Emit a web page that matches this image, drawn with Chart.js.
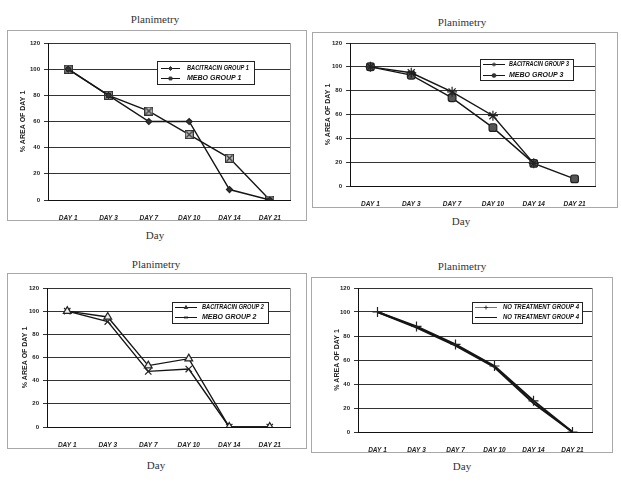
<!DOCTYPE html>
<html>
<head>
<meta charset="utf-8">
<script src="https://cdn.jsdelivr.net/npm/chart.js@4.4.0/dist/chart.umd.min.js"></script>
<style>
  body { margin: 0; width: 621px; height: 486px; background: #fff; position: relative; overflow: hidden;
         font-family: "Liberation Serif", "Times New Roman", serif; }
  canvas { position: absolute; }
  .lbl { position: absolute; transform: translate(-50%, -50%); font-size: 11px; color: #333; white-space: nowrap; }
</style>
</head>
<body>
<div class="lbl" style="left:155px;top:19px">Planimetry</div>
<div class="lbl" style="left:155px;top:235px">Day</div>
<div class="lbl" style="left:462px;top:22px">Planimetry</div>
<div class="lbl" style="left:461px;top:221px">Day</div>
<div class="lbl" style="left:156px;top:264px">Planimetry</div>
<div class="lbl" style="left:156px;top:465px">Day</div>
<div class="lbl" style="left:462px;top:266px">Planimetry</div>
<div class="lbl" style="left:462px;top:466px">Day</div>

<canvas id="c1" width="300" height="191" style="left:7px;top:30px"></canvas>
<canvas id="c2" width="306" height="176" style="left:312px;top:32px"></canvas>
<canvas id="c3" width="300" height="176" style="left:7px;top:273px"></canvas>
<canvas id="c4" width="302" height="176" style="left:311px;top:277px"></canvas>

<script>
const days = ["DAY 1", "DAY 3", "DAY 7", "DAY 10", "DAY 14", "DAY 21"];
const yTicks = [0, 20, 40, 60, 80, 100, 120];

// group 1
const bacitracin1 = [100, 80, 60, 60, 8, 0];
const mebo1 = [100, 80, 68, 50, 32, 0];
// group 3
const bacitracin3 = [100, 95, 79, 59, 19, null];
const mebo3 = [100, 93, 74, 49, 19, 6];
// group 2
const bacitracin2 = [100, 95, 53, 59, 0, 0];
const mebo2 = [100, 91, 48, 50, 0, 0];
// group 4
const noTreatA = [100, 88, 73, 55, 26, 0];
const noTreatB = [100, 87, 72, 54, 24, 0];

// square with an X through it
function crossedSquare(size) {
  const c = document.createElement("canvas");
  c.width = size; c.height = size;
  const g = c.getContext("2d");
  g.fillStyle = "#c4c4c4";
  g.fillRect(0.5, 0.5, size - 1, size - 1);
  g.strokeStyle = "#333";
  g.lineWidth = 1.2;
  g.strokeRect(0.5, 0.5, size - 1, size - 1);
  g.beginPath();
  g.moveTo(1.5, 1.5); g.lineTo(size - 1.5, size - 1.5);
  g.moveTo(size - 1.5, 1.5); g.lineTo(1.5, size - 1.5);
  g.stroke();
  return c;
}

const framePlugin = {
  id: "frame",
  beforeDraw(chart) {
    const { ctx, width, height } = chart;
    ctx.save();
    ctx.fillStyle = "#fff";
    ctx.fillRect(0, 0, width, height);
    ctx.strokeStyle = "#a8a8a8";
    ctx.lineWidth = 1;
    ctx.strokeRect(0.5, 0.5, width - 1, height - 1);
    ctx.restore();
  },
  beforeDatasetsDraw(chart) {
    const { ctx, chartArea } = chart;
    ctx.save();
    ctx.strokeStyle = "#999";
    ctx.lineWidth = 1;
    ctx.beginPath();
    ctx.moveTo(Math.round(chartArea.right) + 0.5, chartArea.top);
    ctx.lineTo(Math.round(chartArea.right) + 0.5, chartArea.bottom);
    ctx.stroke();
    ctx.restore();
  }
};

const boxLegendPlugin = {
  id: "boxLegend",
  afterDraw(chart, args, opts) {
    const b = opts.box;
    if (!b) return;
    const { ctx } = chart;
    ctx.save();
    ctx.fillStyle = "#fff";
    ctx.fillRect(b.x, b.y, b.w, b.h);
    ctx.strokeStyle = "#222";
    ctx.lineWidth = 1;
    ctx.strokeRect(b.x + 0.5, b.y + 0.5, b.w, b.h);
    ctx.font = "italic bold 7px Arial";
    ctx.textBaseline = "middle";
    chart.data.datasets.forEach((ds, i) => {
      const y = Math.round(b.y + b.row0 + i * b.rowGap) + 0.5;
      ctx.strokeStyle = ds.legendLine || ds.borderColor;
      ctx.lineWidth = 1;
      ctx.beginPath();
      ctx.moveTo(b.x + b.lx0, y);
      ctx.lineTo(b.x + b.lx1, y);
      ctx.stroke();
      if (ds.pointRadius > 0) {
        const small = typeof ds.pointStyle === "string" ? ds.pointStyle : "rect";
        ctx.fillStyle = "#333";
        ctx.strokeStyle = "#333";
        ctx.lineWidth = 1;
        Chart.helpers.drawPoint(ctx, {
          pointStyle: small, radius: 2, borderWidth: 1, rotation: 0
        }, b.x + (b.lx0 + b.lx1) / 2, y);
      }
      ctx.fillStyle = "#111";
      ctx.fillText(ds.label, b.x + b.tx, y, b.tw);
    });
    ctx.restore();
  }
};

function series(label, data, style, radius, fill, width) {
  return {
    label, data,
    borderColor: "#151515",
    borderWidth: width || 1.4,
    pointStyle: style,
    pointRadius: radius,
    pointBackgroundColor: fill,
    pointBorderColor: "#222",
    pointBorderWidth: 1.2,
    tension: 0,
    spanGaps: false
  };
}

function makeChart(id, datasets, lay) {
  return new Chart(document.getElementById(id), {
    type: "line",
    data: { labels: days, datasets },
    options: {
      responsive: false,
      animation: false,
      devicePixelRatio: 1,
      layout: { padding: { left: lay.pl, top: lay.pt, right: lay.pr, bottom: 0 } },
      plugins: {
        legend: { display: false },
        tooltip: { enabled: false },
        boxLegend: { box: lay.legend }
      },
      scales: {
        x: {
          offset: true,
          grid: { display: false },
          border: { color: "#111", width: 1 },
          ticks: {
            color: "#222", padding: 6, maxRotation: 0, autoSkip: false,
            font: { family: "Arial", size: 6.5, style: "italic", weight: "bold" }
          },
          afterFit(s) { s.height = lay.xh; }
        },
        y: {
          min: yTicks[0],
          max: yTicks[yTicks.length - 1],
          ticks: {
            stepSize: yTicks[1] - yTicks[0], color: "#222", padding: 4,
            font: { family: "Arial", size: 6, weight: "bold" }
          },
          grid: { color: "#333", lineWidth: 1, tickLength: 4 },
          border: { color: "#111", width: 1 },
          title: {
            display: true, text: "% AREA OF DAY 1", color: "#222", padding: 0,
            font: { family: "Arial", size: 7, weight: "bold" }
          },
          afterFit(s) { s.width = lay.yw; }
        }
      }
    },
    plugins: [framePlugin, boxLegendPlugin]
  });
}

const xsq = crossedSquare(9);

makeChart("c1", [
  series("BACITRACIN GROUP 1", bacitracin1, "rectRot", 3, "#333"),
  series("MEBO GROUP 1", mebo1, xsq, 4.5, "#c4c4c4")
], { pl: 12, yw: 29, pt: 13, pr: 17, xh: 21,
     legend: { x: 150, y: 31, w: 97, h: 23, row0: 7, rowGap: 10, lx0: 4, lx1: 23, tx: 30, tw: 62 } });

makeChart("c2", [
  series("BACITRACIN GROUP 3", bacitracin3, "star", 5, "#555"),
  series("MEBO GROUP 3", mebo3, "rectRounded", 4.5, "#555")
], { pl: 12, yw: 26, pt: 11, pr: 23, xh: 22,
     legend: { x: 168, y: 27, w: 93, h: 21, row0: 5, rowGap: 11, lx0: 3, lx1: 25, tx: 29, tw: 60 } });

makeChart("c3", [
  series("BACITRACIN GROUP 2", bacitracin2, "triangle", 4.5, "#eee"),
  series("MEBO GROUP 2", mebo2, "crossRot", 4.5, "#222")
], { pl: 14, yw: 26, pt: 15, pr: 17, xh: 22,
     legend: { x: 165, y: 29, w: 96, h: 21, row0: 5, rowGap: 10, lx0: 3, lx1: 25, tx: 30, tw: 62 } });

const g4a = series("NO TREATMENT GROUP 4", noTreatA, "cross", 5, "#222", 2);
g4a.legendLine = "#777";
makeChart("c4", [
  g4a,
  series("NO TREATMENT GROUP 4", noTreatB, "circle", 0, "#222", 2)
], { pl: 22, yw: 25, pt: 11, pr: 21, xh: 21,
     legend: { x: 161, y: 25, w: 110, h: 21, row0: 5, rowGap: 10, lx0: 3, lx1: 25, tx: 31, tw: 76 } });
</script>
</body>
</html>
